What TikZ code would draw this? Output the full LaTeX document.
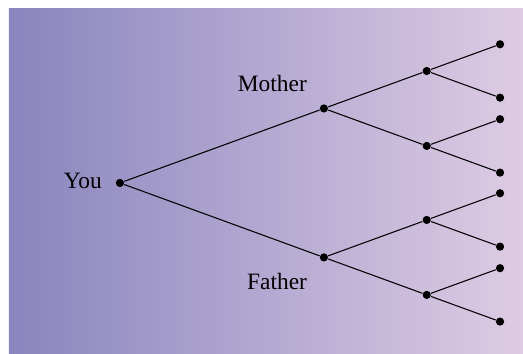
\documentclass[tikz,border=0pt]{standalone}
\usepackage{fontspec}
\setmainfont{Liberation Serif}
\usetikzlibrary{positioning}
\definecolor{shadeleft}{RGB}{137,133,190}
\definecolor{shaderight}{RGB}{222,204,228}

\begin{document}
\begin{tikzpicture}[
    on grid,
    dot/.style={circle, fill=black, inner sep=0pt, minimum size=3.5pt},
    tag/.style={inner sep=0pt, font=\normalsize},
    link/.style={line width=0.45pt}
  ]
    \useasboundingbox (-51.2pt,-73.0pt) rectangle (172.1pt,78.1pt);
    \shade [left color=shadeleft, right color=shaderight] (-47.4pt,-73.0pt) rectangle (172.1pt,74.3pt);

    \node (you) [dot] at (0,0) {};
    \node (mother) [dot, above right=31.8pt and 87.1pt of you] {};
    \node (father) [dot, below right=31.8pt and 87.1pt of you] {};

    \node (mgmother) [dot, above right=16pt and 43.9pt of mother] {};
    \node (mgfather) [dot, below right=16pt and 43.9pt of mother] {};
    \node (pgmother) [dot, above right=16pt and 43.9pt of father] {};
    \node (pgfather) [dot, below right=16pt and 43.9pt of father] {};

    \node (ggp1) [dot, above right=11.4pt and 31.3pt of mgmother] {};
    \node (ggp2) [dot, below right=11.4pt and 31.3pt of mgmother] {};
    \node (ggp3) [dot, above right=11.4pt and 31.3pt of mgfather] {};
    \node (ggp4) [dot, below right=11.4pt and 31.3pt of mgfather] {};
    \node (ggp5) [dot, above right=11.4pt and 31.3pt of pgmother] {};
    \node (ggp6) [dot, below right=11.4pt and 31.3pt of pgmother] {};
    \node (ggp7) [dot, above right=11.4pt and 31.3pt of pgfather] {};
    \node (ggp8) [dot, below right=11.4pt and 31.3pt of pgfather] {};

    \node (youtag) [tag, left=15.8pt of you, yshift=0.8pt] {You};
    \node (mothertag) [tag, above left=10.8pt and 22pt of mother] {Mother};
    \node (fathertag) [tag, below left=10.1pt and 20pt of father] {Father};

    \draw [link] (you) -- (mother);
    \draw [link] (you) -- (father);
    \draw [link] (mother) -- (mgmother);
    \draw [link] (mother) -- (mgfather);
    \draw [link] (father) -- (pgmother);
    \draw [link] (father) -- (pgfather);
    \draw [link] (mgmother) -- (ggp1);
    \draw [link] (mgmother) -- (ggp2);
    \draw [link] (mgfather) -- (ggp3);
    \draw [link] (mgfather) -- (ggp4);
    \draw [link] (pgmother) -- (ggp5);
    \draw [link] (pgmother) -- (ggp6);
    \draw [link] (pgfather) -- (ggp7);
    \draw [link] (pgfather) -- (ggp8);
\end{tikzpicture}
\end{document}
